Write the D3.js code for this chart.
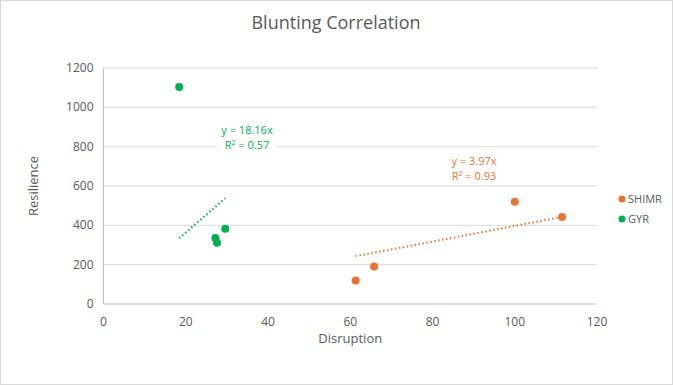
<!DOCTYPE html>
<html>
<head>
<meta charset="utf-8">
<script src="https://cdn.jsdelivr.net/npm/d3@7"></script>
<style>
  body { margin: 0; background: #fff; }
  svg { font-family: "Open Sans", "Liberation Sans", sans-serif; }
</style>
</head>
<body>
<div id="chart"></div>
<script>
// data
const seriesNames = ['SHIMR', 'GYR'];
const shimrX = [61.3, 65.8, 100.0, 111.5];
const shimrY = [120, 191, 520, 442];
const gyrX = [18.4, 27.2, 27.6, 29.6];
const gyrY = [1103, 335, 312, 383];
const slopes = [3.97, 18.16];
const r2 = ['0.93', '0.57'];
const xTicks = [0, 20, 40, 60, 80, 100, 120];
const yTicks = [0, 200, 400, 600, 800, 1000, 1200];

const width = 673, height = 385;
const margin = { left: 103.5, right: 76, top: 68, bottom: 81 };
const colors = ['#E97132', '#00B050'];

const svg = d3.select('#chart').append('svg')
  .attr('width', width)
  .attr('height', height);

svg.append('rect')
  .attr('x', 0.5).attr('y', 0.5)
  .attr('width', width - 1).attr('height', height - 1)
  .attr('fill', '#fff').attr('stroke', '#d9d9d9');

const x = d3.scaleLinear().domain([0, 120]).range([margin.left, width - margin.right]);
const y = d3.scaleLinear().domain([0, 1200]).range([height - margin.bottom, margin.top]);

// gridlines
svg.append('g').selectAll('line')
  .data(yTicks.filter(d => d > 0))
  .enter().append('line')
  .attr('x1', x(0)).attr('x2', x(120))
  .attr('y1', d => y(d)).attr('y2', d => y(d))
  .attr('stroke', '#d9d9d9').attr('stroke-width', 1);

// axes lines
svg.append('line')
  .attr('x1', x(0)).attr('x2', x(120)).attr('y1', y(0)).attr('y2', y(0))
  .attr('stroke', '#bfbfbf');
svg.append('line')
  .attr('x1', x(0)).attr('x2', x(0)).attr('y1', y(0)).attr('y2', y(1200))
  .attr('stroke', '#bfbfbf');

// tick labels
svg.append('g').selectAll('text')
  .data(xTicks).enter().append('text')
  .attr('x', d => x(d)).attr('y', y(0) + 22)
  .attr('text-anchor', 'middle')
  .attr('font-size', 12).attr('fill', '#595959')
  .text(d => d);

svg.append('g').selectAll('text')
  .data(yTicks).enter().append('text')
  .attr('x', x(0) - 10).attr('y', d => y(d) + 4)
  .attr('text-anchor', 'end')
  .attr('font-size', 12).attr('fill', '#595959')
  .text(d => d);

// titles
svg.append('text')
  .attr('x', 336).attr('y', 29)
  .attr('text-anchor', 'middle')
  .attr('font-size', 18).attr('fill', '#595959')
  .text('Blunting Correlation');

svg.append('text')
  .attr('x', (x(0) + x(120)) / 2).attr('y', 343)
  .attr('text-anchor', 'middle')
  .attr('font-size', 13).attr('fill', '#595959')
  .text('Disruption');

svg.append('text')
  .attr('transform', `translate(38, ${y(600)}) rotate(-90)`)
  .attr('text-anchor', 'middle')
  .attr('font-size', 13).attr('fill', '#595959')
  .text('Resilience');

const series = [
  { xs: shimrX, ys: shimrY },
  { xs: gyrX, ys: gyrY }
];

// trendlines (intercept 0)
series.forEach((s, i) => {
  const [x0, x1] = d3.extent(s.xs);
  svg.append('line')
    .attr('x1', x(x0)).attr('y1', y(slopes[i] * x0))
    .attr('x2', x(x1)).attr('y2', y(slopes[i] * x1))
    .attr('stroke', colors[i]).attr('stroke-width', 2)
    .attr('stroke-dasharray', '1.5,2.5');
});

// points
series.forEach((s, i) => {
  svg.append('g').selectAll('circle')
    .data(s.xs.map((v, j) => [v, s.ys[j]]))
    .enter().append('circle')
    .attr('cx', d => x(d[0])).attr('cy', d => y(d[1]))
    .attr('r', 4)
    .attr('fill', colors[i]);
});

// trendline equation labels
const labelPos = [[474, 161], [247, 130]];
labelPos.forEach((p, i) => {
  if (i === 1) {
    svg.append('rect')
      .attr('x', p[0] - 30).attr('y', p[1] + 6)
      .attr('width', 60).attr('height', 14)
      .attr('fill', '#fff');
  }
  svg.append('text')
    .attr('x', p[0]).attr('y', p[1] + 3.5)
    .attr('text-anchor', 'middle')
    .attr('font-size', 11).attr('fill', colors[i])
    .text(`y = ${slopes[i]}x`);
  const t = svg.append('text')
    .attr('x', p[0]).attr('y', p[1] + 18.5)
    .attr('text-anchor', 'middle')
    .attr('font-size', 11).attr('fill', colors[i]);
  t.append('tspan').text('R');
  t.append('tspan').attr('font-size', 7).attr('dy', -4).text('2');
  t.append('tspan').attr('dy', 4).text(` = ${r2[i]}`);
});

// legend
const legend = svg.append('g').selectAll('g')
  .data(seriesNames).enter().append('g')
  .attr('transform', (d, i) => `translate(622, ${199 + i * 20})`);
legend.append('circle').attr('r', 3.5).attr('fill', (d, i) => colors[i]);
legend.append('text')
  .attr('x', 6).attr('y', 4)
  .attr('font-size', 11).attr('fill', '#595959')
  .text(d => d);
</script>
</body>
</html>
